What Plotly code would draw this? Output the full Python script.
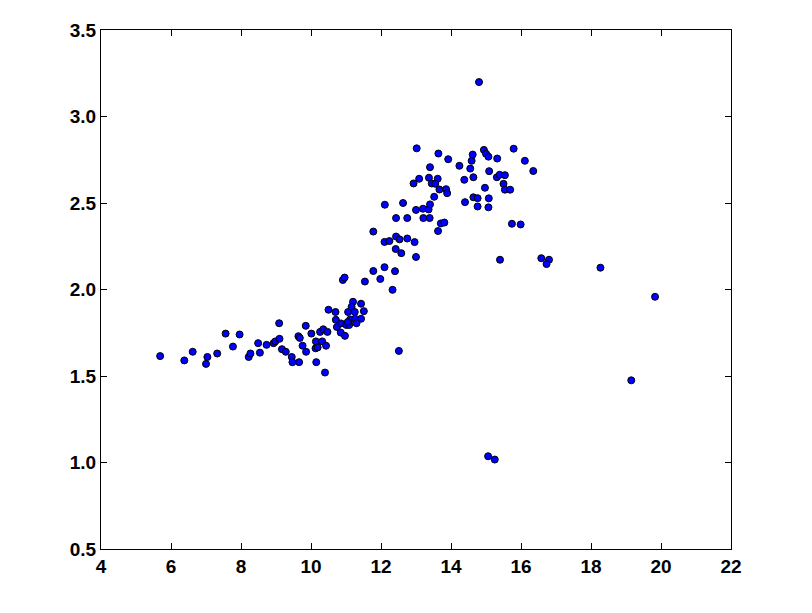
import plotly.graph_objects as go

# Scatter data
x_vals = [
    5.69, 6.38, 6.62, 7.04, 7.00, 7.32, 7.56, 7.77, 7.96, 8.22, 8.27, 8.49, 8.54, 8.73, 8.93, 8.98,
    9.10, 9.09, 9.17, 9.28, 9.45, 9.47, 9.66, 9.64, 9.68, 9.76, 9.85, 9.86, 10.01, 10.15, 10.14,
    10.13, 10.19, 10.26, 10.35, 10.47, 10.40, 10.32, 10.43,
    10.50, 10.70, 10.71, 10.74, 10.86, 11.01, 10.85, 10.97, 11.20, 11.43, 11.51, 11.06, 11.16,
    11.25, 11.12, 11.26, 11.43, 11.30, 11.09, 11.05,
    10.91, 10.96, 11.54, 11.78, 11.98, 12.10, 12.40, 12.33, 12.51, 11.78, 12.10, 12.24, 12.43,
    12.53, 12.75, 12.96, 12.42, 12.58, 13.00, 12.11, 12.63, 12.43, 12.75, 13.21, 13.39, 13.71,
    13.81, 13.63, 13.00, 13.20, 13.36, 13.40, 13.52,
    13.02, 13.09, 12.93, 13.37, 13.62, 13.45, 13.55, 13.67, 13.86, 13.89, 13.40, 13.64, 13.92,
    14.24, 14.80, 14.59, 14.62, 14.55, 14.64, 14.38, 14.94, 15.00, 15.07, 15.09, 14.97, 15.08,
    15.07, 15.32, 15.31, 15.39, 15.54, 15.50, 15.54, 15.69, 14.40, 14.64, 14.76, 14.76, 15.79,
    16.11, 16.35, 15.74, 15.99, 15.40, 16.58, 16.80, 16.73, 18.27, 19.83, 19.15, 15.06, 15.25,
]
y_vals = [
    1.615, 1.59, 1.64, 1.61, 1.57, 1.63, 1.745, 1.67, 1.74, 1.61, 1.63, 1.69, 1.635, 1.68, 1.69, 1.70,
    1.715, 1.805, 1.655, 1.64, 1.61, 1.58, 1.58, 1.73, 1.72, 1.675, 1.79, 1.64, 1.745, 1.58, 1.70,
    1.66, 1.665, 1.755, 1.77, 1.755, 1.52, 1.70, 1.675,
    1.883, 1.87, 1.825, 1.783, 1.804, 1.795, 1.751, 1.732, 1.929, 1.918, 1.875, 1.87, 1.90,
    1.87, 1.827, 1.831, 1.831, 1.805, 1.795, 1.812,
    2.055, 2.069, 2.046, 2.107, 2.061, 2.129, 2.106, 1.998, 1.645, 2.335, 2.275, 2.28, 2.306,
    2.29, 2.295, 2.274, 2.234, 2.21, 2.188, 2.49, 2.50, 2.413, 2.413, 2.413, 2.413, 2.382,
    2.387, 2.338, 2.46, 2.467, 2.463, 2.492, 2.536,
    2.816, 2.64, 2.613, 2.646, 2.64, 2.613, 2.611, 2.578, 2.58, 2.557, 2.707, 2.786, 2.753,
    2.715, 3.199, 2.744, 2.78, 2.699, 2.649, 2.634, 2.807, 2.785, 2.768, 2.684, 2.588, 2.527,
    2.475, 2.757, 2.649, 2.663, 2.661, 2.611, 2.577, 2.577, 2.505, 2.533, 2.528, 2.48, 2.814,
    2.744, 2.685, 2.38, 2.376, 2.172, 2.181, 2.172, 2.147, 2.126, 1.958, 1.475, 1.036, 1.017,
]

x_ticks = [4, 6, 8, 10, 12, 14, 16, 18, 20, 22]
y_ticks = [0.5, 1.0, 1.5, 2.0, 2.5, 3.0, 3.5]

fig = go.Figure(
    go.Scatter(
        x=x_vals,
        y=y_vals,
        mode="markers",
        marker=dict(size=7, color="#0000ff", line=dict(color="black", width=1)),
        hoverinfo="x+y",
    )
)

tick_font = dict(family="Liberation Sans, Arial, sans-serif", size=19, color="black", weight="bold")

axis_common = dict(
    showline=True,
    linecolor="black",
    linewidth=1,
    mirror="ticks",
    ticks="inside",
    ticklen=6,
    tickwidth=1,
    tickcolor="black",
    showgrid=False,
    zeroline=False,
    tickfont=tick_font,
)

# The page body adds an 8px margin, so the figure is sized to fit inside the window.
fig.update_layout(
    width=804,
    height=605,
    margin=dict(l=93, r=81, t=16, b=64),
    paper_bgcolor="white",
    plot_bgcolor="white",
    showlegend=False,
    xaxis=dict(range=[4, 22], tickvals=x_ticks, ticktext=[str(v) for v in x_ticks], **axis_common),
    yaxis=dict(range=[0.5, 3.5], tickvals=y_ticks, ticktext=[f"{v:.1f}" for v in y_ticks], **axis_common),
)

fig.write_html("out.html")
